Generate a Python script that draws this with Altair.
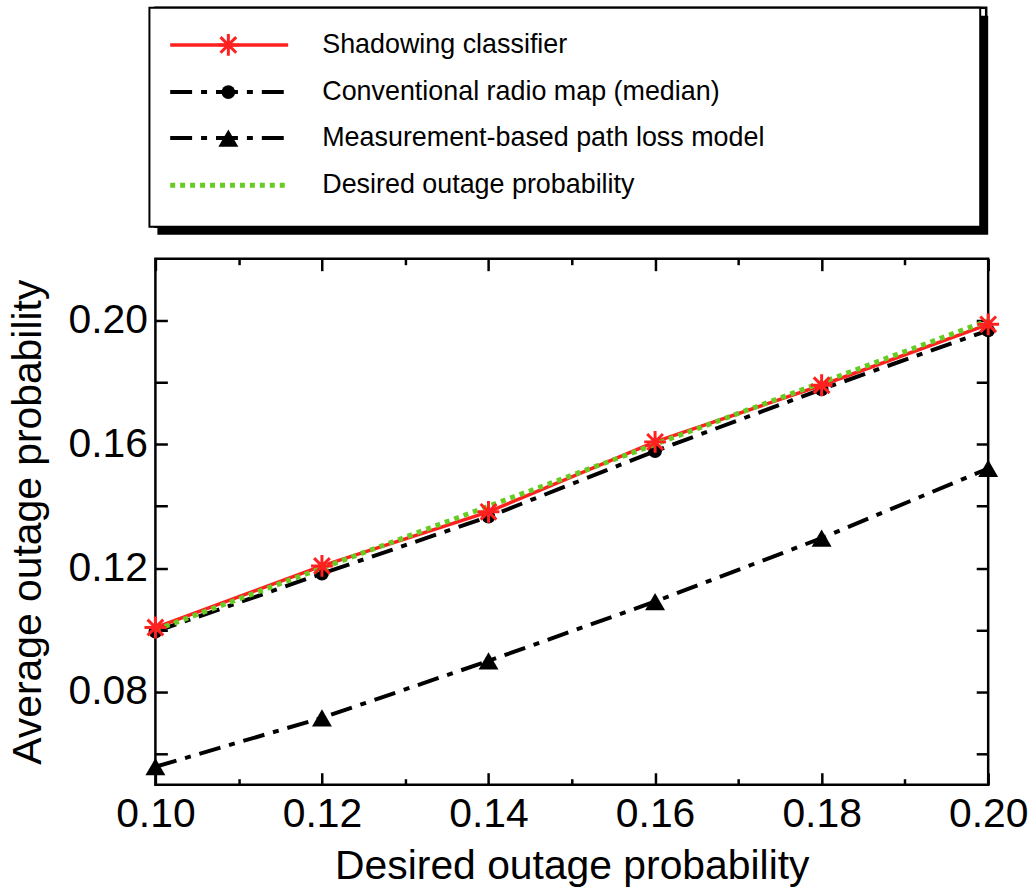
import altair as alt
import pandas as pd

# ---------------- data ----------------
x_vals = [0.10, 0.12, 0.14, 0.16, 0.18, 0.20]
shadowing = [0.1008, 0.1207, 0.1382, 0.1608, 0.1791, 0.1988]
conventional = [0.0995, 0.1182, 0.1366, 0.1578, 0.1778, 0.1968]
measurement = [0.0558, 0.0716, 0.0900, 0.1092, 0.1297, 0.1522]
desired = [0.10, 0.12, 0.14, 0.16, 0.18, 0.20]
series_names = [
    "Shadowing classifier",
    "Conventional radio map (median)",
    "Measurement-based path loss model",
    "Desired outage probability",
]

x_major_ticks = [0.10, 0.12, 0.14, 0.16, 0.18, 0.20]
x_minor_ticks = [0.11, 0.13, 0.15, 0.17, 0.19]
y_ticks = [0.06, 0.08, 0.10, 0.12, 0.14, 0.16, 0.18, 0.20]
y_label_ticks = [0.08, 0.12, 0.16, 0.20]
x_domain = [0.10, 0.20]
y_domain = [0.05, 0.22]

# ---------------- layout / style ----------------
W, H = 836, 528
LW, LH = 834, 220
LEG_SHIFT = -6
SHADOW = 8
FONT = "Liberation Sans"
FS = 41
LEG_FS = 27

LEG_ROWS = [0.17, 0.385, 0.595, 0.81]
LINE_X0, LINE_X1, MARK_X, TEXT_X = 0.025, 0.167, 0.095, 0.208

STAR = "M-1,0L1,0M0,-1L0,1M-0.72,-0.72L0.72,0.72M-0.72,0.72L0.72,-0.72"
DASHDOT = [22, 9, 6, 9]
RED = "#ff2020"
GREEN = "#66cc22"

styles = {
    series_names[0]: dict(color=RED, dash=[1, 0], width=3.5, shape=STAR, size=480, filled=False, mstroke=3),
    series_names[1]: dict(color="black", dash=DASHDOT, width=4, shape="circle", size=190, filled=True, mstroke=0),
    series_names[2]: dict(color="black", dash=DASHDOT, width=4, shape="triangle-up", size=400, filled=True, mstroke=0),
    series_names[3]: dict(color=GREEN, dash=[5, 5], width=5, shape=None),
}

rows = []
for name, vals in zip(series_names, [shadowing, conventional, measurement, desired]):
    for xv, yv in zip(x_vals, vals):
        rows.append({"x": xv, "y": yv, "series": name})
df = pd.DataFrame(rows)

xs = alt.Scale(domain=x_domain, nice=False, zero=False)
ys = alt.Scale(domain=y_domain, nice=False, zero=False)


def tick_axis(orient, values, size, offset):
    return alt.Axis(orient=orient, offset=offset, values=values, tickSize=size, ticks=True,
                    tickWidth=2.5, tickColor="black", labels=False, domain=False, grid=False)


label_x_axis = alt.Axis(orient="bottom", values=x_major_ticks, format=".2f", labelFontSize=FS,
                        labelPadding=10, ticks=False, tickSize=0, domain=False, grid=False,
                        title="Desired outage probability", titleFontSize=FS, titleFontWeight="normal",
                        titlePadding=12, labelColor="black", titleColor="black", labelFlush=False,
                        labelOverlap=False)
label_y_axis = alt.Axis(orient="left", values=y_label_ticks, format=".2f", labelFontSize=FS,
                        labelPadding=8, ticks=False, tickSize=0, domain=False, grid=False,
                        title="Average outage probability", titleFontSize=FS, titleFontWeight="normal",
                        titlePadding=19, labelColor="black", titleColor="black", labelFlush=False,
                        labelOverlap=False)

base = alt.Chart(df)


def sel(name):
    return base.transform_filter(alt.datum.series == name)


def X(axis):
    return alt.X("x:Q", scale=xs, axis=axis, title=None)


def Y(axis):
    return alt.Y("y:Q", scale=ys, axis=axis, title=None)


s0, s1, s2, s3 = series_names
st = styles

conv_line = sel(s1).mark_line(color="black", strokeWidth=st[s1]["width"], strokeDash=st[s1]["dash"]).encode(
    x=X(label_x_axis), y=Y(label_y_axis))
conv_pts = sel(s1).mark_point(shape="circle", filled=True, size=st[s1]["size"], color="black", opacity=1).encode(
    x=X(tick_axis("top", x_major_ticks, 12, -H)), y=Y(tick_axis("right", y_ticks, 12, -W)))
meas_line = sel(s2).mark_line(color="black", strokeWidth=st[s2]["width"], strokeDash=st[s2]["dash"]).encode(
    x=X(tick_axis("top", x_minor_ticks, 6, -H)), y=Y(tick_axis("left", y_ticks, 12, -W)))
meas_pts = sel(s2).mark_point(shape="triangle-up", filled=True, size=st[s2]["size"], color="black", opacity=1).encode(
    x=X(tick_axis("bottom", x_major_ticks, 12, -H)), y=Y(None))
red_line = sel(s0).mark_line(color=RED, strokeWidth=st[s0]["width"]).encode(
    x=X(tick_axis("bottom", x_minor_ticks, 6, -H)), y=Y(None))
green_line = sel(s3).mark_line(color=GREEN, strokeWidth=st[s3]["width"], strokeDash=st[s3]["dash"]).encode(
    x=X(None), y=Y(None))
red_pts = sel(s0).mark_point(shape=STAR, filled=False, size=st[s0]["size"], color=RED,
                             strokeWidth=st[s0]["mstroke"], opacity=1).encode(x=X(None), y=Y(None))

plot = alt.layer(conv_line, conv_pts, meas_line, meas_pts, red_line, green_line, red_pts).resolve_axis(
    x="independent", y="independent").properties(width=W, height=H)

# ---------------- legend panel ----------------
lx = alt.Scale(domain=[0, 1], nice=False, zero=False)
ly = alt.Scale(domain=[0, 1], nice=False, zero=False, reverse=True)
box_df = pd.DataFrame({"x0": [0.0], "x1": [1.0], "y0": [0.0], "y1": [1.0]})

shadow = alt.Chart(box_df).mark_rect(color="black", xOffset=LEG_SHIFT + SHADOW, x2Offset=LEG_SHIFT + SHADOW,
                                     yOffset=SHADOW, y2Offset=SHADOW).encode(
    x=alt.X("x0:Q", scale=lx, axis=None), x2="x1:Q",
    y=alt.Y("y0:Q", scale=ly, axis=None), y2="y1:Q")
box = alt.Chart(box_df).mark_rect(fill="white", stroke="black", strokeWidth=2,
                                  xOffset=LEG_SHIFT, x2Offset=LEG_SHIFT).encode(
    x=alt.X("x0:Q", scale=lx, axis=None), x2="x1:Q",
    y=alt.Y("y0:Q", scale=ly, axis=None), y2="y1:Q")

leg_layers = [shadow, box]
for name, ry in zip(series_names, LEG_ROWS):
    s = styles[name]
    ldf = pd.DataFrame({"x0": [LINE_X0], "x1": [LINE_X1], "xm": [MARK_X], "xt": [TEXT_X], "y": [ry], "label": [name]})
    c = alt.Chart(ldf)
    leg_layers.append(c.mark_rule(color=s["color"], strokeWidth=s["width"], strokeDash=s["dash"],
                                  xOffset=LEG_SHIFT, x2Offset=LEG_SHIFT).encode(
        x=alt.X("x0:Q", scale=lx, axis=None), x2="x1:Q", y=alt.Y("y:Q", scale=ly, axis=None)))
    if s["shape"] is not None:
        leg_layers.append(c.mark_point(shape=s["shape"], filled=s["filled"], size=s["size"], color=s["color"],
                                       strokeWidth=s["mstroke"] if not s["filled"] else 0, opacity=1,
                                       xOffset=LEG_SHIFT).encode(
            x=alt.X("xm:Q", scale=lx, axis=None), y=alt.Y("y:Q", scale=ly, axis=None)))
    leg_layers.append(c.mark_text(align="left", baseline="middle", fontSize=LEG_FS, font=FONT, color="black",
                                  xOffset=LEG_SHIFT).encode(
        x=alt.X("xt:Q", scale=lx, axis=None), y=alt.Y("y:Q", scale=ly, axis=None), text="label:N"))

legend_panel = alt.layer(*leg_layers).properties(width=LW, height=LH)

chart = alt.vconcat(legend_panel, plot, spacing=19).properties(
    padding={"left": 5, "top": 3, "right": 5, "bottom": 0}
).configure(font=FONT).configure_view(stroke="black", strokeWidth=2.5)

chart.save("out.html", embed_options={"renderer": "svg", "actions": False})
